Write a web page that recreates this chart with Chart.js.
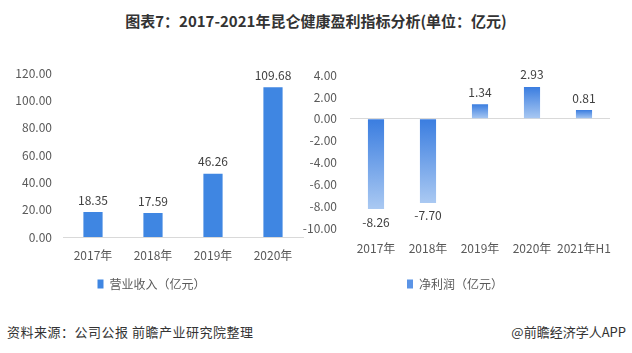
<!DOCTYPE html>
<html>
<head>
<meta charset="utf-8">
<script src="https://cdn.jsdelivr.net/npm/chart.js@4.4.0/dist/chart.umd.min.js"></script>
<style>
  body { margin: 0; width: 632px; height: 353px; background: #fff; position: relative; overflow: hidden;
         font-family: "Noto Sans CJK SC", "Microsoft YaHei", sans-serif; }
  .title { position: absolute; top: 10px; left: 0; width: 632px; text-align: center;
           font-size: 15px; font-weight: bold; color: #333; }
  .wrap { position: absolute; top: 55px; height: 245px; }
  #left { left: 0; width: 316px; }
  #right { left: 300px; width: 332px; }
  .source { position: absolute; top: 322px; left: 7px; font-size: 13px; color: #333; letter-spacing: 0.5px; }
  .app { position: absolute; top: 322px; right: 6px; font-size: 13px; color: #333; }
</style>
</head>
<body>
<div class="title">图表7：2017-2021年昆仑健康盈利指标分析(单位：亿元)</div>
<div class="wrap" id="left"><canvas id="revenue-chart"></canvas></div>
<div class="wrap" id="right"><canvas id="profit-chart"></canvas></div>
<div class="source">资料来源：公司公报 前瞻产业研究院整理</div>
<div class="app">@前瞻经济学人APP</div>
<script>
// ----- Data -----
const revenueYears = ["2017年", "2018年", "2019年", "2020年"];
const revenueValues = [18.35, 17.59, 46.26, 109.68];
const revenueTicks = [0, 20, 40, 60, 80, 100, 120];

const profitYears = ["2017年", "2018年", "2019年", "2020年", "2021年H1"];
const profitValues = [-8.26, -7.70, 1.34, 2.93, 0.81];
const profitTicks = [-10, -8, -6, -4, -2, 0, 2, 4];

const FONT = '"Noto Sans CJK SC", "Microsoft YaHei", sans-serif';
const TEXT = "#595959";
Chart.defaults.font.family = FONT;
Chart.defaults.font.size = 12;
Chart.defaults.color = TEXT;

// draws value labels above (or below) each bar
const valueLabels = {
  id: "valueLabels",
  afterDatasetsDraw(chart) {
    const ctx = chart.ctx;
    const meta = chart.getDatasetMeta(0);
    const values = chart.data.datasets[0].data;
    ctx.save();
    ctx.font = "12px " + FONT;
    ctx.fillStyle = "#404040";
    ctx.textAlign = "center";
    ctx.textBaseline = "middle";
    meta.data.forEach((bar, i) => {
      const v = values[i];
      const y = v >= 0 ? bar.y - 12 : bar.y + 13;
      ctx.fillText(v.toFixed(2), bar.x, y);
    });
    ctx.restore();
  }
};

const profitGradient = (context) => {
  const chart = context.chart;
  const y = chart.scales.y;
  if (!y || context.dataIndex === undefined) return "#3b7ee0";
  const v = context.dataset.data[context.dataIndex];
  const p1 = y.getPixelForValue(v), p0 = y.getPixelForValue(0);
  const top = Math.min(p1, p0), bottom = Math.max(p1, p0);
  const g = chart.ctx.createLinearGradient(0, top, 0, bottom + 0.01);
  g.addColorStop(0, "#3a7de0");
  g.addColorStop(1, "#aac9f2");
  return g;
};

// ----- Left chart: revenue -----
new Chart(document.getElementById("revenue-chart"), {
  type: "bar",
  data: {
    labels: revenueYears,
    datasets: [{
      label: "营业收入（亿元）",
      data: revenueValues,
      backgroundColor: "#3f86e2",
      barPercentage: 0.64,
      categoryPercentage: 0.5,
    }],
  },
  options: {
    responsive: true,
    maintainAspectRatio: false,
    animation: false,
    layout: { padding: { top: 11, right: 13, left: 0, bottom: 0 } },
    plugins: {
      legend: {
        position: "bottom",
        labels: { boxWidth: 6, boxHeight: 9, padding: 10, color: TEXT, font: { size: 12 } },
      },
      tooltip: { enabled: false },
    },
    scales: {
      x: {
        grid: { display: false },
        border: { color: "#d9d9d9" },
        ticks: { padding: 3, color: TEXT, maxRotation: 0, autoSkip: false },
        afterFit: (s) => { s.height = 31; },
      },
      y: {
        min: 0, max: 120,
        afterBuildTicks: (s) => { s.ticks = revenueTicks.map(v => ({ value: v })); },
        grid: { display: false, drawTicks: false },
        border: { display: false },
        ticks: { padding: 11, color: TEXT, callback: (v) => v.toFixed(2) },
        afterFit: (s) => { s.width = 63; },
      },
    },
  },
  plugins: [valueLabels],
});

// ----- Right chart: net profit -----
new Chart(document.getElementById("profit-chart"), {
  type: "bar",
  data: {
    labels: profitYears,
    datasets: [{
      label: "净利润（亿元）",
      data: profitValues,
      backgroundColor: profitGradient,
      barPercentage: 0.62,
      categoryPercentage: 0.5,
    }],
  },
  options: {
    responsive: true,
    maintainAspectRatio: false,
    animation: false,
    layout: { padding: { top: 17, right: 22, left: 0, bottom: 0 } },
    plugins: {
      legend: {
        position: "bottom",
        labels: {
          boxWidth: 6, boxHeight: 9, padding: 10, color: TEXT, font: { size: 12 },
          generateLabels: () => [{
            text: "净利润（亿元）", fillStyle: "#5b94e6", strokeStyle: "transparent",
            lineWidth: 0, datasetIndex: 0, fontColor: TEXT,
          }],
        },
      },
      tooltip: { enabled: false },
    },
    scales: {
      x: {
        grid: { display: false },
        border: { display: false },
        ticks: { padding: 5, color: TEXT, maxRotation: 0, autoSkip: false },
        afterFit: (s) => { s.height = 40; },
      },
      y: {
        min: -10, max: 4,
        afterBuildTicks: (s) => { s.ticks = profitTicks.map(v => ({ value: v })); },
        grid: {
          drawTicks: false,
          color: (c) => (c.tick && c.tick.value === 0 ? "#d9d9d9" : "rgba(0,0,0,0)"),
        },
        border: { display: false },
        ticks: { padding: 13, color: TEXT, callback: (v) => v.toFixed(2) },
        afterFit: (s) => { s.width = 50; },
      },
    },
  },
  plugins: [valueLabels],
});
</script>
</body>
</html>
